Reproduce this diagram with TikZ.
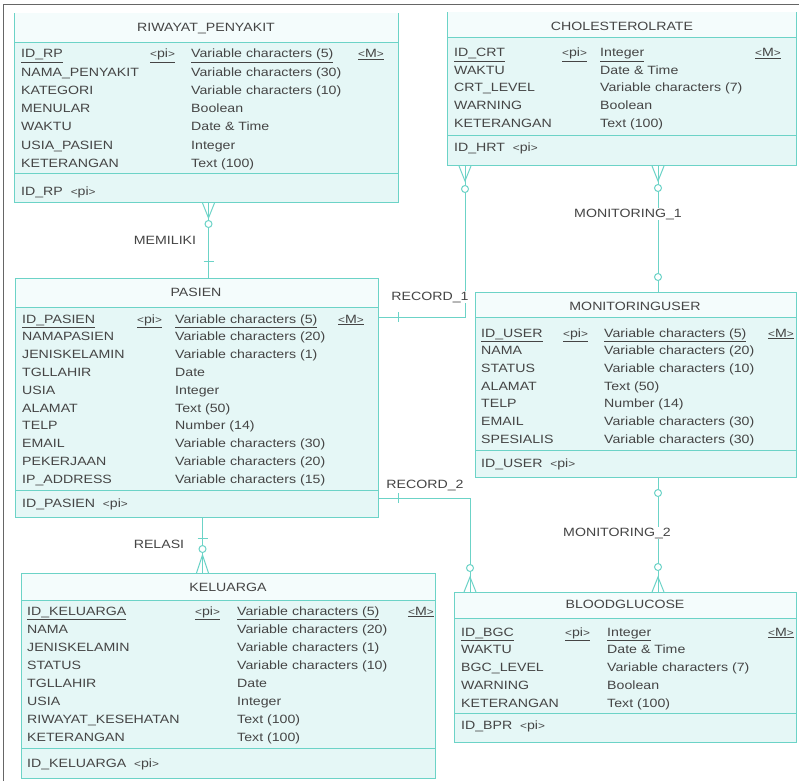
\documentclass[tikz,border=0pt]{standalone}
\usepackage{fontspec}
\newfontfamily\erfont{Liberation Sans}[FakeStretch=1.18]
\usetikzlibrary{calc}
\definecolor{erline}{HTML}{6CD3C7}
\definecolor{erfill}{HTML}{E5F7F6}
\definecolor{erhead}{HTML}{F4FCFC}
\definecolor{ertext}{HTML}{454545}
\tikzset{entbox/.style = {draw=erline, fill=erfill, line width=1pt, inner sep=0pt, anchor=north west},
  sepline/.style = {draw=erline, line width=1pt},
  conn/.style = {draw=erline, line width=1pt},
  framel/.style = {draw=gray!80!black, line width=0.8pt},
  txt/.style = {anchor=base west, inner sep=0pt, text=ertext, font=\erfont\fontsize{12}{14}\selectfont},
  ttl/.style = {anchor=base, inner sep=0pt, text=ertext, font=\erfont\fontsize{12}{14}\selectfont},
  rellabel/.style = {anchor=base, inner sep=1pt, fill=white, text=ertext, font=\erfont\fontsize{12}{14}\selectfont}}
% small angle brackets round a tag
\newcommand\tagg[1]{{\fontsize{10}{10}\selectfont<}#1{\fontsize{10}{10}\selectfont>}}
% key row of an entity: prefix, y, four columns, name, type
\newcommand\erkey[8]{%
  \node[txt] (#1-k) at (#3,#2) {\underline{#7}};
  \node[txt] (#1-pi) at (#4,#2) {\underline{\tagg{pi}}};
  \node[txt] (#1-kt) at (#5,#2) {\underline{#8}};
  \node[txt] (#1-m) at (#6,#2) {\underline{\tagg{M}}};}
% connector ends
\newcommand\crowend[2]{\draw[conn] ($(#1)+(-6,0)$) -- ($(#1)+(0,#2)$) -- ($(#1)+(6,0)$);}
\newcommand\oend[2]{\draw[conn, fill=white] ($(#1)+(0,#2)$) circle (3.5pt);}
\newcommand\barv[2]{\draw[conn] ($(#1)+(-5,#2)$) -- ++(10,0);}
\newcommand\barh[2]{\draw[conn] ($(#1)+(#2,-5)$) -- ++(0,10);}
\begin{document}
\begin{tikzpicture}[x=1pt, y=-1pt]
\fill[white] (0,0) rectangle (799,781);
\useasboundingbox (0,0) rectangle (799,781);
\draw[framel] (3,781) -- (3,4) -- (799,4);

% RIWAYAT_PENYAKIT
\node[entbox, minimum width=384pt, minimum height=189pt] (rp) at (14,13) {};
\fill[erhead] (14.5,13.5) rectangle (397.5,43);
\draw[sepline] (14,43) -- (398,43) (14,173) -- (398,173);
\node[ttl] (rp-t) at (206,32) {RIWAYAT\_PENYAKIT};
\erkey{rp}{58}{21}{150}{191}{358}{ID\_RP}{Variable characters (5)}
\foreach \nm/\ty [count=\i] in {NAMA\_PENYAKIT/Variable characters (30), KATEGORI/Variable characters (10),
    MENULAR/Boolean, WAKTU/Date \& Time, USIA\_PASIEN/Integer, KETERANGAN/Text (100)}{
  \node[txt] (rp-a\i) at (21,{58+18.2*\i}) {\nm};
  \node[txt] (rp-b\i) at (191,{58+18.2*\i}) {\ty};}
\node[txt] (rp-f) at (21,195) {ID\_RP~~\tagg{pi}};

% CHOLESTEROLRATE
\node[entbox, minimum width=349pt, minimum height=153pt] (chol) at (447,12) {};
\fill[erhead] (447.5,12.5) rectangle (795.5,38);
\draw[sepline] (447,38) -- (796,38) (447,135) -- (796,135);
\node[ttl] (chol-t) at (622,31) {CHOLESTEROLRATE};
\erkey{chol}{57}{454}{562}{600}{755}{ID\_CRT}{Integer}
\foreach \nm/\ty [count=\i] in {WAKTU/Date \& Time, CRT\_LEVEL/Variable characters (7),
    WARNING/Boolean, KETERANGAN/Text (100)}{
  \node[txt] (chol-a\i) at (454,{57+17.5*\i}) {\nm};
  \node[txt] (chol-b\i) at (600,{57+17.5*\i}) {\ty};}
\node[txt] (chol-f) at (454,151) {ID\_HRT~~\tagg{pi}};

% PASIEN
\node[entbox, minimum width=363pt, minimum height=239pt] (pas) at (15,278) {};
\fill[erhead] (15.5,278.5) rectangle (377.5,307);
\draw[sepline] (15,307) -- (378,307) (15,490) -- (378,490);
\node[ttl] (pas-t) at (196,296) {PASIEN};
\erkey{pas}{323}{22}{137}{175}{338}{ID\_PASIEN}{Variable characters (5)}
\foreach \nm/\ty [count=\i] in {NAMAPASIEN/Variable characters (20), JENISKELAMIN/Variable characters (1),
    TGLLAHIR/Date, USIA/Integer, ALAMAT/Text (50), TELP/Number (14), EMAIL/Variable characters (30),
    PEKERJAAN/Variable characters (20), IP\_ADDRESS/Variable characters (15)}{
  \node[txt] (pas-a\i) at (22,{323+17.8*\i}) {\nm};
  \node[txt] (pas-b\i) at (175,{323+17.8*\i}) {\ty};}
\node[txt] (pas-f) at (22,507) {ID\_PASIEN~~\tagg{pi}};

% MONITORINGUSER
\node[entbox, minimum width=321pt, minimum height=185pt] (mu) at (475,292) {};
\fill[erhead] (475.5,292.5) rectangle (795.5,317);
\draw[sepline] (475,317) -- (796,317) (475,450) -- (796,450);
\node[ttl] (mu-t) at (635,310) {MONITORINGUSER};
\erkey{mu}{337}{481}{563}{604}{768}{ID\_USER}{Variable characters (5)}
\foreach \nm/\ty [count=\i] in {NAMA/Variable characters (20), STATUS/Variable characters (10),
    ALAMAT/Text (50), TELP/Number (14), EMAIL/Variable characters (30), SPESIALIS/Variable characters (30)}{
  \node[txt] (mu-a\i) at (481,{337+17.7*\i}) {\nm};
  \node[txt] (mu-b\i) at (604,{337+17.7*\i}) {\ty};}
\node[txt] (mu-f) at (481,467) {ID\_USER~~\tagg{pi}};

% KELUARGA
\node[entbox, minimum width=414pt, minimum height=205pt] (kel) at (21,573) {};
\fill[erhead] (21.5,573.5) rectangle (434.5,600);
\draw[sepline] (21,600) -- (435,600) (21,748) -- (435,748);
\node[ttl] (kel-t) at (228,591) {KELUARGA};
\erkey{kel}{615}{27}{195}{237}{408}{ID\_KELUARGA}{Variable characters (5)}
\foreach \nm/\ty [count=\i] in {NAMA/Variable characters (20), JENISKELAMIN/Variable characters (1),
    STATUS/Variable characters (10), TGLLAHIR/Date, USIA/Integer, RIWAYAT\_KESEHATAN/Text (100),
    KETERANGAN/Text (100)}{
  \node[txt] (kel-a\i) at (27,{615+18*\i}) {\nm};
  \node[txt] (kel-b\i) at (237,{615+18*\i}) {\ty};}
\node[txt] (kel-f) at (27,767) {ID\_KELUARGA~~\tagg{pi}};

% BLOODGLUCOSE
\node[entbox, minimum width=342pt, minimum height=150pt] (bg) at (454,592) {};
\fill[erhead] (454.5,592.5) rectangle (795.5,618);
\draw[sepline] (454,618) -- (796,618) (454,713) -- (796,713);
\node[ttl] (bg-t) at (625,608) {BLOODGLUCOSE};
\erkey{bg}{636}{461}{565}{607}{768}{ID\_BGC}{Integer}
\foreach \nm/\ty [count=\i] in {WAKTU/Date \& Time, BGC\_LEVEL/Variable characters (7),
    WARNING/Boolean, KETERANGAN/Text (100)}{
  \node[txt] (bg-a\i) at (461,{636+17.8*\i}) {\nm};
  \node[txt] (bg-b\i) at (607,{636+17.8*\i}) {\ty};}
\node[txt] (bg-f) at (461,729) {ID\_BPR~~\tagg{pi}};

% relationships
\coordinate (mem-a) at ([xshift=2pt]rp.south);
\coordinate (mem-b) at (mem-a |- pas.north);
\draw[conn] (mem-a) -- (mem-b);
\crowend{mem-a}{15} \oend{mem-a}{21} \barv{mem-b}{-17}
\node[rellabel] (memiliki) at (165,244) {MEMILIKI};

\coordinate (rel-a) at ([xshift=5.5pt]pas.south);
\coordinate (rel-b) at (rel-a |- kel.north);
\draw[conn] (rel-a) -- (rel-b);
\barv{rel-a}{20} \crowend{rel-b}{-18} \oend{rel-a}{31}
\node[rellabel] (relasi) at (159,548) {RELASI};

\coordinate (rec1-a) at ([yshift=-39pt]pas.north east);
\coordinate (rec1-b) at ([xshift=18pt]chol.south west);
\draw[conn] (rec1-a) -| (rec1-b);
\barh{rec1-a}{19} \crowend{rec1-b}{15} \oend{rec1-b}{23}
\node[rellabel] (record1) at (430,300) {RECORD\_1};

\coordinate (mon1-a) at ([xshift=211pt]chol.south west);
\coordinate (mon1-b) at (mon1-a |- mu.north);
\draw[conn] (mon1-a) -- (mon1-b);
\crowend{mon1-a}{15} \oend{mon1-a}{22} \oend{mon1-b}{-15}
\node[rellabel] (monitoring1) at (628,217) {MONITORING\_1};

\coordinate (rec2-a) at ([yshift=20pt]pas.south east);
\coordinate (rec2-b) at ([xshift=16pt]bg.north west);
\draw[conn] (rec2-a) -| (rec2-b);
\barh{rec2-a}{19} \crowend{rec2-b}{-15} \oend{rec2-b}{-24}
\node[rellabel] (record2) at (425,488) {RECORD\_2};

\coordinate (mon2-a) at ([xshift=183pt]mu.south west);
\coordinate (mon2-b) at (mon2-a |- bg.north);
\draw[conn] (mon2-a) -- (mon2-b);
\oend{mon2-a}{15} \crowend{mon2-b}{-15} \oend{mon2-b}{-25}
\node[rellabel] (monitoring2) at (617,536) {MONITORING\_2};
\end{tikzpicture}
\end{document}
